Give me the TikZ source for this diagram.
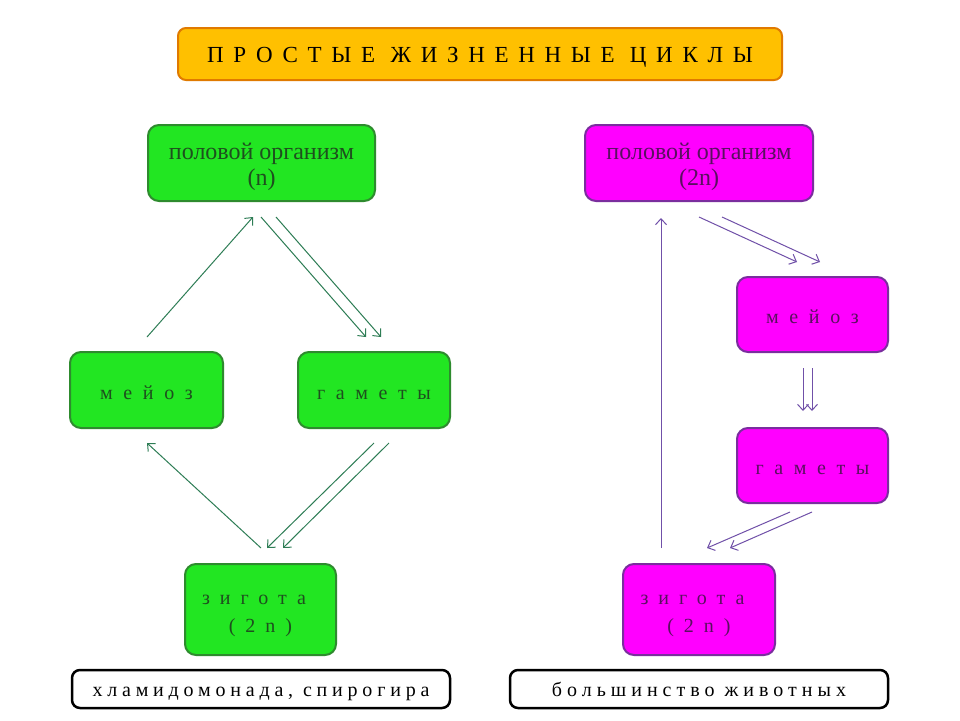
\documentclass[tikz,border=0pt]{standalone}
\usepackage{fontspec}
\setmainfont{Liberation Serif}
\usetikzlibrary{arrows.meta}
\definecolor{gfill}{HTML}{22E622}
\definecolor{gdraw}{HTML}{2E8B2E}
\definecolor{gtext}{HTML}{1E4F1E}
\definecolor{garrow}{HTML}{2E7D55}
\definecolor{mfill}{HTML}{FF00FF}
\definecolor{mdraw}{HTML}{7A2E9E}
\definecolor{mtext}{HTML}{5A1060}
\definecolor{marrow}{HTML}{7050A8}
\definecolor{tfill}{HTML}{FFC000}
\definecolor{tdraw}{HTML}{E07A00}
\newcommand{\spaced}[2]{{\addfontfeatures{LetterSpace=#1}#2}}
% struts to place text vertically as in the reference
\newcommand{\stone}{\rule[-6pt]{0pt}{30.2pt}}
\newcommand{\sttitle}{\rule[-6pt]{0pt}{29.2pt}}
\newcommand{\stcap}{\rule[-6pt]{0pt}{27.2pt}}
\newcommand{\sttopA}{\rule{0pt}{26pt}}
\newcommand{\sttopB}{\rule[-7pt]{0pt}{7pt}}
\newcommand{\stzA}{\rule{0pt}{25.2pt}}
\newcommand{\stzB}{\rule[-7pt]{0pt}{7pt}}
\tikzset{
  base/.style={rounded corners=11pt, line width=2pt, align=center, inner sep=0pt},
  gbox/.style={base, fill=gfill, draw=gdraw, text=gtext},
  mbox/.style={base, fill=mfill, draw=mdraw, text=mtext},
  toptext/.style={font=\fontsize{24}{26.5}\selectfont},
  onetext/.style={font=\fontsize{20}{24}\selectfont},
  ztext/.style={font=\fontsize{20}{28}\selectfont},
  capbox/.style={rounded corners=8pt, line width=2.5pt, draw=black, fill=white, minimum width=378pt, minimum height=38pt, inner sep=0pt, font=\fontsize{20}{24}\selectfont},
  titlebox/.style={rounded corners=8pt, line width=2pt, draw=tdraw, fill=tfill, minimum width=604pt, minimum height=52pt, inner sep=0pt, font=\fontsize{23}{26}\selectfont},
  garr/.style={draw=garrow, line width=1pt, -{Straight Barb[length=6pt,width=11pt]}},
  marr/.style={draw=marrow, line width=1pt, -{Straight Barb[length=6pt,width=11pt]}},
}
\begin{document}
\begin{tikzpicture}[x=1pt,y=-1pt]
\useasboundingbox (0,0) rectangle (960,720);
\fill[white] (0,0) rectangle (960,720);
% title
\node[titlebox] (title) at (480,54) {\sttitle\spaced{42}{ПРОСТЫЕ ЖИЗНЕННЫЕ ЦИКЛЫ}};
% left cycle
\node[gbox, toptext, minimum width=227pt, minimum height=76pt] (L1) at (261.5,163) {\sttopA половой организм\\(n)\sttopB};
\node[gbox, onetext, minimum width=153pt, minimum height=76pt] (L2) at (146.5,390) {\stone\spaced{53}{мейоз}};
\node[gbox, onetext, minimum width=152pt, minimum height=76pt] (L3) at (374,390) {\stone\spaced{53}{гаметы}};
\node[gbox, ztext, minimum width=151pt, minimum height=91pt] (L4) at (260.5,609.5) {\stzA\spaced{50}{зигота}\kern13pt\\\spaced{50}{(2n)}\stzB};
\node[capbox] (LC) at (261,689) {\stcap\spaced{24}{хламидомонада, спирогира}};
% right cycle
\node[mbox, toptext, minimum width=228pt, minimum height=76pt] (R1) at (699,163) {\sttopA половой организм\\(2n)\sttopB};
\node[mbox, onetext, minimum width=151pt, minimum height=75pt] (R2) at (812.5,314.5) {\stone\spaced{53}{мейоз}};
\node[mbox, onetext, minimum width=151pt, minimum height=75pt] (R3) at (812.5,465.5) {\stone\spaced{53}{гаметы}};
\node[mbox, ztext, minimum width=152pt, minimum height=91pt] (R4) at (699,609.5) {\stzA\spaced{50}{зигота}\kern13pt\\\spaced{50}{(2n)}\stzB};
\node[capbox] (RC) at (699,689) {\stcap\spaced{25}{большинство животных}};
% left arrow end points
\coordinate (a1s) at (147,337); \coordinate (a1e) at (253,217);
\coordinate (a2s) at (261,217); \coordinate (a2e) at (366,337);
\coordinate (a3s) at (276,217); \coordinate (a3e) at (381,337);
\coordinate (a4s) at (261,548); \coordinate (a4e) at (147,443);
\coordinate (a5s) at (374,443); \coordinate (a5e) at (267,548);
\coordinate (a6s) at (389,443); \coordinate (a6e) at (283,548);
\draw[garr] (a1s) -- (a1e);
\draw[garr] (a2s) -- (a2e);
\draw[garr] (a3s) -- (a3e);
\draw[garr] (a4s) -- (a4e);
\draw[garr] (a5s) -- (a5e);
\draw[garr] (a6s) -- (a6e);
% right arrow end points
\coordinate (b1s) at (661,548); \coordinate (b1e) at (661,218);
\coordinate (b2s) at (699,217); \coordinate (b2e) at (797,262);
\coordinate (b3s) at (722,217); \coordinate (b3e) at (820,262);
\coordinate (b4s) at (803,368); \coordinate (b4e) at (803,411);
\coordinate (b5s) at (812,368); \coordinate (b5e) at (812,411);
\coordinate (b6s) at (790,512); \coordinate (b6e) at (707,548);
\coordinate (b7s) at (812,512); \coordinate (b7e) at (730,548);
\draw[marr] (b1s) -- (b1e);
\draw[marr] (b2s) -- (b2e);
\draw[marr] (b3s) -- (b3e);
\draw[marr] (b4s) -- (b4e);
\draw[marr] (b5s) -- (b5e);
\draw[marr] (b6s) -- (b6e);
\draw[marr] (b7s) -- (b7e);
\end{tikzpicture}
\end{document}
